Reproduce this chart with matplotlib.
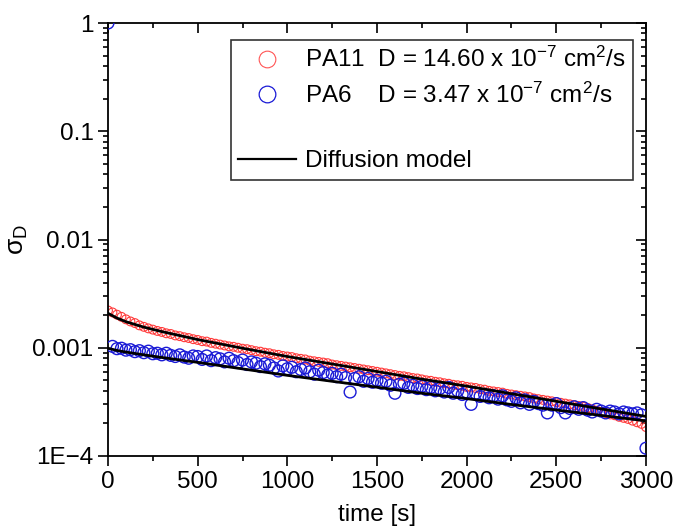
import matplotlib
matplotlib.use("Agg")
import matplotlib.pyplot as plt
import numpy as np
from matplotlib.lines import Line2D
from matplotlib.ticker import FixedLocator, FuncFormatter, LogLocator, MultipleLocator

plt.rcParams["font.family"] = ["Liberation Sans", "DejaVu Sans"]
plt.rcParams["mathtext.fontset"] = "custom"
plt.rcParams["mathtext.rm"] = "Liberation Sans"
plt.rcParams["mathtext.it"] = "Liberation Sans:italic"
plt.rcParams["mathtext.bf"] = "Liberation Sans:bold"

# measured points, one every 25 s (sigma_D in units of 1e-4)
time_s = np.arange(0, 3001, 25)

pa11_x1e4 = [
    22.1, 21.2, 20.2, 19.3, 18.3, 17.5, 16.9, 16.1, 15.6, 15.1,
    14.7, 14.3, 14.0, 13.6, 13.4, 13.0, 12.8, 12.5, 12.3, 12.0,
    11.8, 11.5, 11.4, 11.1, 10.9, 10.7, 10.5, 10.3, 10.2, 10.0,
    9.8, 9.7, 9.5, 9.3, 9.2, 9.0, 8.9, 8.7, 8.6, 8.4,
    8.3, 8.2, 8.0, 7.9, 7.8, 7.6, 7.5, 7.4, 7.3, 7.2,
    7.0, 6.9, 6.8, 6.7, 6.6, 6.5, 6.4, 6.3, 6.2, 6.1,
    6.0, 5.9, 5.8, 5.7, 5.6, 5.5, 5.45, 5.35, 5.25, 5.2,
    5.1, 5.0, 4.95, 4.85, 4.8, 4.7, 4.65, 4.55, 4.5, 4.45,
    4.35, 4.3, 4.25, 4.15, 4.1, 4.0, 3.95, 3.9, 3.85, 3.75,
    3.7, 3.65, 3.6, 3.55, 3.5, 3.4, 3.35, 3.3, 3.25, 3.2,
    3.15, 3.1, 3.05, 3.0, 2.95, 2.9, 2.85, 2.78, 2.7, 2.62,
    2.55, 2.5, 2.42, 2.38, 2.3, 2.25, 2.2, 2.12, 2.05, 1.98,
    1.85,
]

pa6_x1e4 = [
    10000.0, 10.3, 9.8, 9.9, 9.5, 9.6, 9.2, 9.4, 9.0, 9.3,
    8.8, 8.9, 8.6, 8.9, 8.5, 8.3, 8.6, 8.2, 8.0, 8.4,
    8.3, 7.8, 8.4, 7.6, 8.1, 7.9, 7.4, 8.0, 7.6, 7.3,
    7.7, 7.0, 7.4, 7.2, 6.7, 7.1, 6.9, 6.5, 6.1, 6.8,
    6.4, 6.6, 6.0, 6.3, 6.5, 6.0, 5.7, 6.2, 5.9, 5.6,
    5.8, 5.4, 5.7, 5.3, 3.9, 5.2, 5.4, 4.9, 5.2, 4.8,
    5.0, 4.7, 4.9, 4.5, 3.8, 4.6, 4.7, 4.3, 4.5, 4.2,
    4.4, 4.1, 4.3, 4.0, 4.2, 3.9, 4.3, 3.8, 4.0, 3.7,
    3.9, 3.0, 3.8, 3.55, 3.7, 3.45, 3.6, 3.35, 3.6, 3.3,
    3.2, 3.45, 3.1, 3.3, 3.0, 3.2, 3.05, 2.95, 2.5, 2.95,
    3.05, 2.8, 2.5, 2.75, 2.85, 2.7, 2.8, 2.65, 2.55, 2.7,
    2.6, 2.5, 2.6, 2.55, 2.45, 2.55, 2.5, 2.45, 2.5, 2.4,
    1.18,
]

# diffusion model curves
model_t = [0, 50, 100, 200, 300, 500, 750, 1000, 1250, 1500, 1750, 2000, 2250, 2500, 2750, 3000]
model_pa11 = [2.08e-3, 1.88e-3, 1.74e-3, 1.55e-3, 1.41e-3, 1.19e-3, 9.9e-4, 8.3e-4,
              7.08e-4, 6.03e-4, 5.13e-4, 4.42e-4, 3.76e-4, 3.2e-4, 2.72e-4, 2.32e-4]
model_pa6 = [9.9e-4, 9.44e-4, 9.12e-4, 8.6e-4, 8.13e-4, 7.33e-4, 6.38e-4, 5.56e-4,
             4.9e-4, 4.32e-4, 3.8e-4, 3.39e-4, 2.99e-4, 2.66e-4, 2.37e-4, 2.11e-4]

pa11_label = "PA11  D = 14.60 x 10$^{-7}$ cm$^{2}$/s"
pa6_label = "PA6    D = 3.47 x 10$^{-7}$ cm$^{2}$/s"

RED = "#ff3b3b"
BLUE = "#1a1ad6"
FS = 17.5

fig = plt.figure(figsize=(6.73, 5.30), dpi=100)
ax = fig.add_axes([108 / 673, 1 - 456 / 530, 538 / 673, 433 / 530])

ax.scatter(time_s, np.array(pa11_x1e4) * 1e-4, s=40, facecolors="none",
           edgecolors=RED, linewidths=0.8, zorder=2)
ax.scatter(time_s, np.array(pa6_x1e4) * 1e-4, s=72, facecolors="none",
           edgecolors=BLUE, linewidths=1.0, zorder=3)
ax.plot(model_t, model_pa11, color="black", lw=2.0, zorder=4)
ax.plot(model_t, model_pa6, color="black", lw=2.0, zorder=4)

ax.set_yscale("log")
ax.set_xlim(0, 3000)
ax.set_ylim(1e-4, 1)

ax.xaxis.set_major_locator(MultipleLocator(500))
ax.xaxis.set_minor_locator(MultipleLocator(250))
ax.yaxis.set_major_locator(FixedLocator([1e-4, 1e-3, 1e-2, 1e-1, 1]))
ax.yaxis.set_minor_locator(LogLocator(base=10, subs=np.arange(2, 10)))
ylabels = {1e-4: "1E\u22124", 1e-3: "0.001", 1e-2: "0.01", 1e-1: "0.1", 1: "1"}
ax.yaxis.set_major_formatter(FuncFormatter(
    lambda v, pos: next((s for k, s in ylabels.items() if np.isclose(v, k)), "")))

ax.tick_params(axis="both", which="both", labelsize=FS, width=1.2)
ax.tick_params(which="major", length=7)
ax.tick_params(which="minor", length=3.5)
ax.tick_params(axis="x", which="both", direction="out", top=True)
ax.tick_params(axis="y", which="both", direction="out", right=True)
# top and right ticks point inward
for t in ax.xaxis.get_major_ticks() + ax.xaxis.get_minor_ticks():
    t.tick2line.set_marker(3)
for t in ax.yaxis.get_major_ticks() + ax.yaxis.get_minor_ticks():
    t.tick2line.set_marker(0)
for sp in ax.spines.values():
    sp.set_linewidth(1.3)

ax.set_xlabel("time [s]", fontsize=FS, labelpad=8)
ax.set_ylabel("σ$_{\\mathrm{D}}$", fontsize=19, labelpad=2)

handles = [
    Line2D([], [], ls="none", marker="o", ms=12, mfc="none", mec="#ff5555", mew=0.8),
    Line2D([], [], ls="none", marker="o", ms=12, mfc="none", mec=BLUE, mew=0.9),
    Line2D([], [], ls="none"),
    Line2D([], [], color="black", lw=1.6),
]
labels = [pa11_label, pa6_label, " ", "Diffusion model"]
leg = ax.legend(handles, labels, loc="upper right", bbox_to_anchor=(0.976, 0.961),
                borderaxespad=0, fontsize=FS, frameon=True, fancybox=False,
                handlelength=2.4, handletextpad=0.35, labelspacing=0.42,
                borderpad=0.3)
leg.get_frame().set_edgecolor("black")
leg.get_frame().set_linewidth(1.2)

fig.savefig("out.png", dpi=100)
